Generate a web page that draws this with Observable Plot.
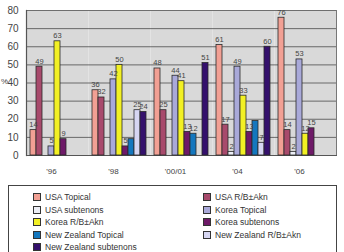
<!DOCTYPE html>
<html>
<head>
<meta charset="utf-8">
<script src="https://cdn.jsdelivr.net/npm/d3@7"></script>
<script src="https://cdn.jsdelivr.net/npm/@observablehq/plot@0.6"></script>
<style>
  html, body { margin: 0; padding: 0; background: #fff; }
  body { width: 344px; height: 252px; overflow: hidden; position: relative; font-family: "Liberation Sans", Arial, sans-serif; }
  #chart svg { display: block; }
  #ylab { position: absolute; left: 1px; top: 77px; font-size: 8px; color: #444; }
  #legend {
    position: absolute; left: 8px; top: 185px; width: 329px; height: 80px;
    border: 1px solid #444; box-sizing: border-box;
    display: grid; grid-template-columns: 170px 150px; grid-auto-rows: 12.5px;
    padding: 5px 0 0 24px; font-size: 8.5px; color: #333;
  }
  #legend .item { display: flex; align-items: center; white-space: nowrap; }
  #legend .sw { width: 6px; height: 6px; border: 1px solid #333; margin-right: 4px; flex: none; }
</style>
</head>
<body>
<div id="chart"></div>
<div id="ylab">%</div>
<div id="legend"></div>
<script>
const years = ["'96", "'98", "'00/01", "'04", "'06"];
const series = [
  "USA Topical", "USA R/B±Akn", "USA subtenons",
  "Korea Topical", "Korea R/B±Akn", "Korea subtenons",
  "New Zealand Topical", "New Zealand R/B±Akn", "New Zealand subtenons"
];
const colors = [
  "#f2a094", "#a84a6c", "#eceef6",
  "#a9a9d9", "#f2f024", "#6e1a68",
  "#1477be", "#d6d6f2", "#34106c"
];
// Percentages per year, in the order of `series` (null = not reported)
const v96  = [14, 49, null, 5, 63, 9, null, null, null];
const v98  = [36, 32, null, 42, 50, 5, 9, 25, 24];
const v01  = [48, 25, null, 44, 41, 13, 12, null, 51];
const v04  = [61, 17, 2, 49, 33, 13, 19, 7, 60];
const v06  = [76, 14, 2, 53, 12, 15, null, null, null];
const yTicks = [0, 10, 20, 30, 40, 50, 60, 70, 80];
// Bars drawn without a value label
const unlabeled = [["'98", "New Zealand Topical"], ["'04", "New Zealand Topical"]];

const rows = [v96, v98, v01, v04, v06];
const data = [];
years.forEach((yr, i) => rows[i].forEach((v, j) => {
  if (v != null) data.push({year: yr, series: series[j], value: v});
}));
const labeled = data.filter(d => !unlabeled.some(([y, s]) => y === d.year && s === d.series));

const chart = Plot.plot({
  width: 344,
  height: 182,
  marginLeft: 24,
  marginRight: 6,
  marginTop: 10,
  marginBottom: 27,
  style: {fontFamily: "Liberation Sans, Arial, sans-serif", color: "#444", background: "transparent"},
  fx: {domain: years, padding: 0, label: null},
  x: {domain: series, axis: null, paddingInner: 0, paddingOuter: 0.5},
  y: {domain: [0, 80], ticks: yTicks, tickSize: 0, tickPadding: 8, label: null, fontSize: 8},
  color: {domain: series, range: colors},
  marks: [
    Plot.frame({fill: "#d9d9d9", stroke: null}),
    Plot.gridY(yTicks, {stroke: "#333", strokeOpacity: 0.85, strokeWidth: 0.8}),
    Plot.frame({anchor: "left", facetAnchor: "left", stroke: "#555", strokeWidth: 1.2}),
    Plot.frame({anchor: "right", facetAnchor: "right", stroke: "#777", strokeWidth: 1}),
    Plot.frame({anchor: "bottom", stroke: "#555", strokeWidth: 1}),
    Plot.axisFx({anchor: "bottom", tickSize: 0, tickPadding: 13, fontSize: 8, dx: -6, label: null}),
    Plot.barY(data, {fx: "year", x: "series", y: "value", fill: "series", stroke: "#2a2a2a", strokeWidth: 0.8}),
    Plot.text(labeled, {fx: "year", x: "series", y: "value", text: d => String(d.value), dy: -5.5, fontSize: 7.5, fill: "#444"})
  ]
});
document.getElementById("chart").appendChild(chart);

// Legend below the chart, two columns in series order
const legend = document.getElementById("legend");
series.forEach((s, i) => {
  const item = document.createElement("div");
  item.className = "item";
  const sw = document.createElement("span");
  sw.className = "sw";
  sw.style.background = colors[i];
  item.appendChild(sw);
  item.appendChild(document.createTextNode(s));
  legend.appendChild(item);
});
</script>
</body>
</html>
